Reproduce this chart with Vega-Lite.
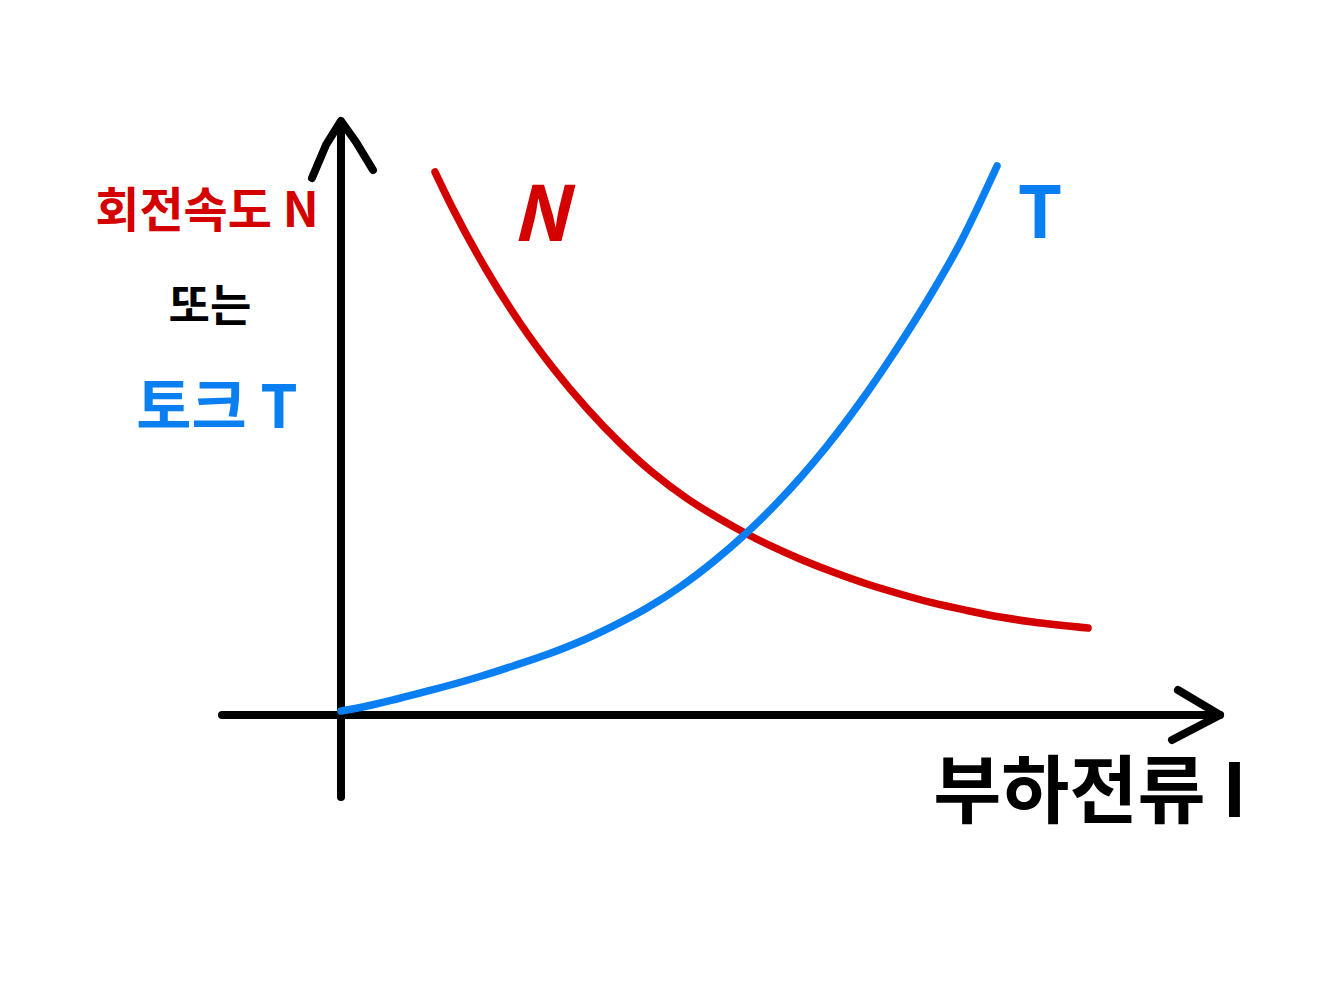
{
  "$schema": "https://vega.github.io/schema/vega-lite/v6.json",
  "width": 1328,
  "height": 999,
  "autosize": {"type": "fit", "contains": "padding"},
  "padding": 0,
  "background": "white",
  "config": {"view": {"stroke": null}},
  "datasets": {
    "axes": [
      {"part": "x축", "order": 1, "I": -1.792, "v": 0},
      {"part": "x축", "order": 2, "I": 13.238, "v": 0},
      {"part": "x화살표", "order": 1, "I": 12.605, "v": 0.375},
      {"part": "x화살표", "order": 2, "I": 13.238, "v": 0},
      {"part": "x화살표", "order": 3, "I": 12.515, "v": -0.375},
      {"part": "y축", "order": 1, "I": 0, "v": 8.904},
      {"part": "y축", "order": 2, "I": 0, "v": -1.231},
      {"part": "y화살표", "order": 1, "I": -0.437, "v": 8.063},
      {"part": "y화살표", "order": 2, "I": -0.226, "v": 8.559},
      {"part": "y화살표", "order": 3, "I": 0, "v": 8.919},
      {"part": "y화살표", "order": 4, "I": 0.226, "v": 8.604},
      {"part": "y화살표", "order": 5, "I": 0.482, "v": 8.183}
    ],
    "curves": [
      {"series": "N", "I": 1.416, "v": 8.153},
      {"series": "N", "I": 1.687, "v": 7.598},
      {"series": "N", "I": 2.199, "v": 6.667},
      {"series": "N", "I": 2.696, "v": 5.886},
      {"series": "N", "I": 3.193, "v": 5.210},
      {"series": "N", "I": 3.705, "v": 4.602},
      {"series": "N", "I": 4.202, "v": 4.084},
      {"series": "N", "I": 4.699, "v": 3.634},
      {"series": "N", "I": 5.211, "v": 3.251},
      {"series": "N", "I": 5.708, "v": 2.943},
      {"series": "N", "I": 6.114, "v": 2.718},
      {"series": "N", "I": 6.506, "v": 2.523},
      {"series": "N", "I": 6.913, "v": 2.342},
      {"series": "N", "I": 7.410, "v": 2.147},
      {"series": "N", "I": 7.922, "v": 1.967},
      {"series": "N", "I": 8.419, "v": 1.817},
      {"series": "N", "I": 8.916, "v": 1.682},
      {"series": "N", "I": 9.428, "v": 1.569},
      {"series": "N", "I": 9.925, "v": 1.471},
      {"series": "N", "I": 10.422, "v": 1.396},
      {"series": "N", "I": 11.250, "v": 1.306},
      {"series": "T", "I": 0, "v": 0.060},
      {"series": "T", "I": 0.331, "v": 0.120},
      {"series": "T", "I": 0.843, "v": 0.240},
      {"series": "T", "I": 1.340, "v": 0.368},
      {"series": "T", "I": 1.837, "v": 0.503},
      {"series": "T", "I": 2.093, "v": 0.578},
      {"series": "T", "I": 2.590, "v": 0.736},
      {"series": "T", "I": 3.102, "v": 0.908},
      {"series": "T", "I": 3.599, "v": 1.104},
      {"series": "T", "I": 4.096, "v": 1.336},
      {"series": "T", "I": 4.608, "v": 1.607},
      {"series": "T", "I": 5.105, "v": 1.922},
      {"series": "T", "I": 5.602, "v": 2.297},
      {"series": "T", "I": 6.114, "v": 2.740},
      {"series": "T", "I": 6.566, "v": 3.183},
      {"series": "T", "I": 6.913, "v": 3.559},
      {"series": "T", "I": 7.319, "v": 4.039},
      {"series": "T", "I": 7.816, "v": 4.692},
      {"series": "T", "I": 8.313, "v": 5.413},
      {"series": "T", "I": 8.825, "v": 6.216},
      {"series": "T", "I": 9.322, "v": 7.080},
      {"series": "T", "I": 9.880, "v": 8.243}
    ],
    "labels": [
      {"label": "회전속도 N", "series": "N", "role": "ylabel", "I": -2.018, "v": 7.538},
      {"label": "또는", "series": "축", "role": "yor", "I": -1.973, "v": 6.111},
      {"label": "토크 T", "series": "T", "role": "ylabel2", "I": -1.867, "v": 4.58},
      {"label": "N", "series": "N", "role": "curveN", "I": 2.997, "v": 7.462},
      {"label": "T", "series": "T", "role": "curveT", "I": 10.527, "v": 7.49},
      {"label": "부하전류 I", "series": "축", "role": "xlabel", "I": 11.28, "v": -1.201}
    ]
  },
  "encoding": {
    "x": {"field": "I", "type": "quantitative", "scale": {"domain": [-5.1355, 14.8645], "nice": false, "zero": false}, "axis": null},
    "y": {"field": "v", "type": "quantitative", "scale": {"domain": [-4.2643, 10.7357], "nice": false, "zero": false}, "axis": null}
  },
  "layer": [
    {
      "data": {"name": "axes"},
      "mark": {"type": "line", "strokeWidth": 8, "strokeCap": "round", "strokeJoin": "round", "color": "#000000"},
      "encoding": {
        "detail": {"field": "part", "type": "nominal"},
        "order": {"field": "order", "type": "quantitative"}
      }
    },
    {
      "data": {"name": "curves"},
      "mark": {"type": "line", "strokeWidth": 7.5, "strokeCap": "round", "strokeJoin": "round", "interpolate": "monotone"},
      "encoding": {
        "color": {"field": "series", "type": "nominal", "scale": {"domain": ["N", "T", "축"], "range": ["#d40000", "#0a7ff2", "#000000"]}, "legend": null}
      }
    },
    {
      "data": {"name": "labels"},
      "transform": [{"filter": "datum.role == 'ylabel'"}],
      "mark": {"type": "text", "font": "Noto Sans CJK KR", "fontWeight": "bold", "align": "center", "baseline": "middle", "fontSize": 48},
      "encoding": {
        "text": {"field": "label", "type": "nominal"},
        "color": {"field": "series", "type": "nominal", "legend": null}
      }
    },
    {
      "data": {"name": "labels"},
      "transform": [{"filter": "datum.role == 'yor'"}],
      "mark": {"type": "text", "font": "Noto Sans CJK KR", "fontWeight": "bold", "align": "center", "baseline": "middle", "fontSize": 45},
      "encoding": {
        "text": {"field": "label", "type": "nominal"},
        "color": {"field": "series", "type": "nominal", "legend": null}
      }
    },
    {
      "data": {"name": "labels"},
      "transform": [{"filter": "datum.role == 'ylabel2'"}],
      "mark": {"type": "text", "font": "Noto Sans CJK KR", "fontWeight": "bold", "align": "center", "baseline": "middle", "fontSize": 60},
      "encoding": {
        "text": {"field": "label", "type": "nominal"},
        "color": {"field": "series", "type": "nominal", "legend": null}
      }
    },
    {
      "data": {"name": "labels"},
      "transform": [{"filter": "datum.role == 'curveN'"}],
      "mark": {"type": "text", "font": "Noto Sans CJK KR", "fontWeight": "bold", "fontStyle": "italic", "align": "center", "baseline": "middle", "fontSize": 76},
      "encoding": {
        "text": {"field": "label", "type": "nominal"},
        "color": {"field": "series", "type": "nominal", "legend": null}
      }
    },
    {
      "data": {"name": "labels"},
      "transform": [{"filter": "datum.role == 'curveT'"}],
      "mark": {"type": "text", "font": "Noto Sans CJK KR", "fontWeight": "bold", "align": "center", "baseline": "middle", "fontSize": 72},
      "encoding": {
        "text": {"field": "label", "type": "nominal"},
        "color": {"field": "series", "type": "nominal", "legend": null}
      }
    },
    {
      "data": {"name": "labels"},
      "transform": [{"filter": "datum.role == 'xlabel'"}],
      "mark": {"type": "text", "font": "Noto Sans CJK KR", "fontWeight": "bold", "align": "center", "baseline": "middle", "fontSize": 74},
      "encoding": {
        "text": {"field": "label", "type": "nominal"},
        "color": {"field": "series", "type": "nominal", "legend": null}
      }
    }
  ]
}
